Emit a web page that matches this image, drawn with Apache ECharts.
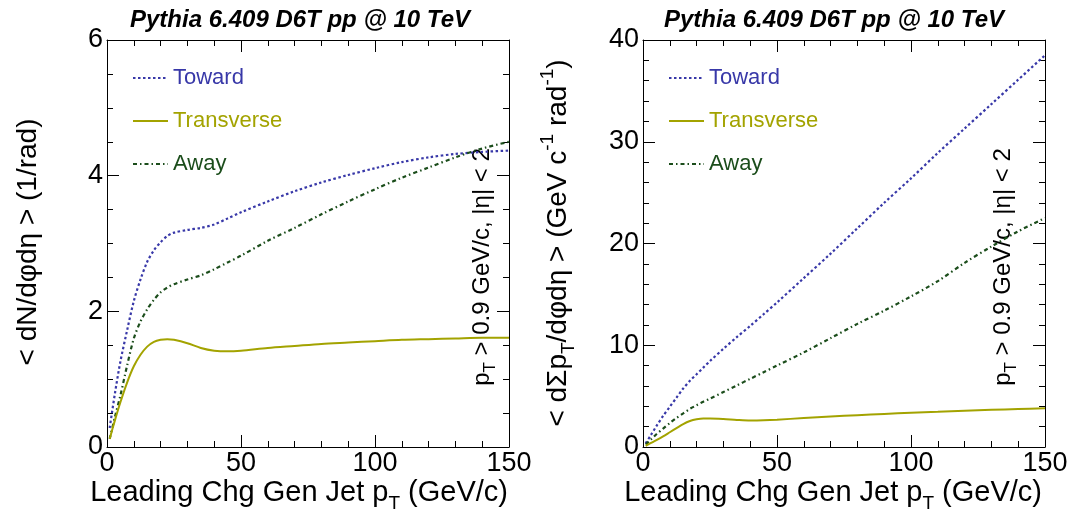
<!DOCTYPE html>
<html>
<head>
<meta charset="utf-8">
<script src="https://cdn.jsdelivr.net/npm/echarts@6/dist/echarts.min.js"></script>
<style>
html,body{margin:0;padding:0;background:#fff;}
#chart{width:1074px;height:516px;}
</style>
</head>
<body>
<div id="chart"></div>
<script>
// ---- data ----
const xVals = [1, 3, 5, 7.5, 10, 12.5, 15, 17.5, 20, 22.5, 25, 30, 35, 40, 45, 50, 60, 70, 80, 90, 100, 110, 120, 130, 140, 150];

// left panel: < dN/dphi deta > (1/rad)
const nToward     = [0.28, 0.80, 1.26, 1.72, 2.15, 2.47, 2.73, 2.90, 3.02, 3.11, 3.16, 3.20, 3.23, 3.28, 3.37, 3.46, 3.62, 3.77, 3.90, 4.01, 4.11, 4.20, 4.27, 4.32, 4.35, 4.37];
const nTransverse = [0.12, 0.40, 0.66, 0.95, 1.19, 1.36, 1.48, 1.55, 1.58, 1.59, 1.58, 1.53, 1.46, 1.42, 1.41, 1.42, 1.46, 1.49, 1.52, 1.54, 1.56, 1.58, 1.59, 1.60, 1.61, 1.61];
const nAway       = [0.12, 0.45, 0.76, 1.20, 1.60, 1.85, 2.03, 2.17, 2.28, 2.35, 2.40, 2.47, 2.53, 2.62, 2.72, 2.82, 3.04, 3.23, 3.43, 3.62, 3.80, 3.97, 4.12, 4.27, 4.40, 4.50];

// right panel: < dSum pT/dphi deta > (GeV/c/rad)
const ptToward     = [0.35, 1.20, 2.05, 3.05, 3.95, 4.85, 5.75, 6.50, 7.15, 7.80, 8.45, 9.65, 10.8, 11.9, 13.05, 14.2, 16.6, 19.0, 21.5, 24.0, 26.4, 28.9, 31.3, 33.7, 36.1, 38.5];
const ptTransverse = [0.12, 0.40, 0.68, 1.05, 1.45, 1.85, 2.25, 2.55, 2.72, 2.80, 2.80, 2.75, 2.66, 2.60, 2.62, 2.68, 2.85, 3.00, 3.13, 3.25, 3.36, 3.46, 3.56, 3.65, 3.73, 3.80];
const ptAway       = [0.25, 0.75, 1.25, 1.80, 2.35, 2.85, 3.30, 3.75, 4.10, 4.45, 4.75, 5.40, 6.05, 6.70, 7.35, 8.00, 9.30, 10.7, 12.1, 13.4, 14.8, 16.3, 18.1, 19.7, 21.2, 22.5];

const seriesNames = ['Toward', 'Transverse', 'Away'];
const titleText = 'Pythia 6.409 D6T pp @ 10 TeV';

// ---- styling ----
const FONT = '"Liberation Sans", Arial, Helvetica, sans-serif';
const colors = { Toward: '#3838a8', Transverse: '#a3a300', Away: '#1b4d1b' };
const dashes = { Toward: [2.5, 2.5], Transverse: 'solid', Away: [4, 3, 1.5, 3] };

function pairs(arr) { return xVals.map((x, i) => [x, arr[i]]); }

function xAx(gridIndex, pos, showLabel) {
  return {
    type: 'value', gridIndex: gridIndex, position: pos, min: 0, max: 150, interval: 50,
    axisLine: { show: true, onZero: false, lineStyle: { color: '#000', width: 1 } },
    axisTick: { show: true, inside: true, length: 12, lineStyle: { color: '#000', width: 1 } },
    minorTick: { show: true, splitNumber: 5, length: 6, lineStyle: { color: '#000', width: 1 } },
    splitLine: { show: false },
    axisLabel: { show: showLabel, fontSize: 27, color: '#000', fontFamily: FONT, margin: 3 }
  };
}
function yAx(gridIndex, pos, showLabel, max, interval, minorSplit) {
  return {
    type: 'value', gridIndex: gridIndex, position: pos, min: 0, max: max, interval: interval,
    axisLine: { show: true, onZero: false, lineStyle: { color: '#000', width: 1 } },
    axisTick: { show: true, inside: true, length: 12, lineStyle: { color: '#000', width: 1 } },
    minorTick: { show: true, splitNumber: minorSplit, length: 6, lineStyle: { color: '#000', width: 1 } },
    splitLine: { show: false },
    axisLabel: { show: showLabel, fontSize: 27, color: '#000', fontFamily: FONT, margin: 4 }
  };
}

function mkSeries(name, data, xi, yi) {
  return {
    type: 'line', name: name, xAxisIndex: xi, yAxisIndex: yi,
    data: pairs(data), showSymbol: false, symbol: 'none', smooth: 0.3,
    lineStyle: { color: colors[name], width: name === 'Transverse' ? 2 : 2.2, type: dashes[name] },
    itemStyle: { color: colors[name] },
    z: name === 'Transverse' ? 3 : 2
  };
}

function legendFor(left) {
  return {
    left: left, top: 67, orient: 'vertical', padding: 0,
    itemWidth: 35, itemHeight: 24, itemGap: 21,
    selectedMode: false,
    itemStyle: { opacity: 0, borderWidth: 0 },
    data: seriesNames.map(n => ({ name: n, textStyle: { color: colors[n], fontSize: 22, fontFamily: FONT } }))
  };
}

const richMain = {
  m: { fontSize: 28, lineHeight: 40, verticalAlign: 'middle', fontFamily: FONT, fill: '#000' },
  x: { fontSize: 29, lineHeight: 40, verticalAlign: 'middle', fontFamily: FONT, fill: '#000' },
  s: { fontSize: 19, verticalAlign: 'bottom', fontFamily: FONT, fill: '#000' },
  p: { fontSize: 19, verticalAlign: 'top', fontFamily: FONT, fill: '#000' }
};
const richNote = {
  m: { fontSize: 24, lineHeight: 34, verticalAlign: 'middle', fontFamily: FONT, fill: '#000' },
  s: { fontSize: 17, verticalAlign: 'bottom', fontFamily: FONT, fill: '#000' }
};

function txt(x, y, text, rich, rot, align) {
  return {
    type: 'text', x: x, y: y, rotation: rot || 0, silent: true,
    style: { text: text, rich: rich, align: align || 'center', verticalAlign: 'middle', fill: '#000', fontFamily: FONT }
  };
}

const option = {
  animation: false,
  backgroundColor: '#fff',
  grid: [
    { left: 107, top: 40, width: 402, height: 407 },
    { left: 643, top: 40, width: 402, height: 407 }
  ],
  xAxis: [ xAx(0, 'bottom', true), xAx(0, 'top', false), xAx(1, 'bottom', true), xAx(1, 'top', false) ],
  yAxis: [
    yAx(0, 'left', true, 6, 2, 4), yAx(0, 'right', false, 6, 2, 4),
    yAx(1, 'left', true, 40, 10, 5), yAx(1, 'right', false, 40, 10, 5)
  ],
  legend: [ legendFor(132), legendFor(668) ],
  series: [
    mkSeries('Toward', nToward, 0, 0),
    mkSeries('Transverse', nTransverse, 0, 0),
    mkSeries('Away', nAway, 0, 0),
    mkSeries('Toward', ptToward, 2, 2),
    mkSeries('Transverse', ptTransverse, 2, 2),
    mkSeries('Away', ptAway, 2, 2)
  ],
  graphic: [
    { type: 'text', x: 300, y: 20, silent: true,
      style: { text: titleText, fontSize: 24, fontWeight: 'bold', fontStyle: 'italic', fontFamily: FONT, fill: '#000', align: 'center', verticalAlign: 'middle' } },
    { type: 'text', x: 834, y: 20, silent: true,
      style: { text: titleText, fontSize: 24, fontWeight: 'bold', fontStyle: 'italic', fontFamily: FONT, fill: '#000', align: 'center', verticalAlign: 'middle' } },
    // x-axis titles
    txt(508, 493, '{x|Leading Chg Gen Jet p}{s|T}{x| (GeV/c)}', richMain, 0, 'right'),
    txt(1042, 493, '{x|Leading Chg Gen Jet p}{s|T}{x| (GeV/c)}', richMain, 0, 'right'),
    // y-axis titles
    txt(28, 242, '{m|< dN/dφdη > (1/rad)}', richMain, Math.PI / 2),
    txt(558, 243, '{m|< dΣp}{s|T}{m|/dφdη > (GeV c}{p|-1}{m| rad}{p|-1}{m|)}', richMain, Math.PI / 2),
    // cut annotations
    txt(482, 267, '{m|p}{s|T}{m| > 0.9 GeV/c, |η| < 2}', richNote, Math.PI / 2),
    txt(1003, 267, '{m|p}{s|T}{m| > 0.9 GeV/c, |η| < 2}', richNote, Math.PI / 2)
  ]
};

const chart = echarts.init(document.getElementById('chart'), null, { renderer: 'canvas' });
chart.setOption(option);
</script>
</body>
</html>
